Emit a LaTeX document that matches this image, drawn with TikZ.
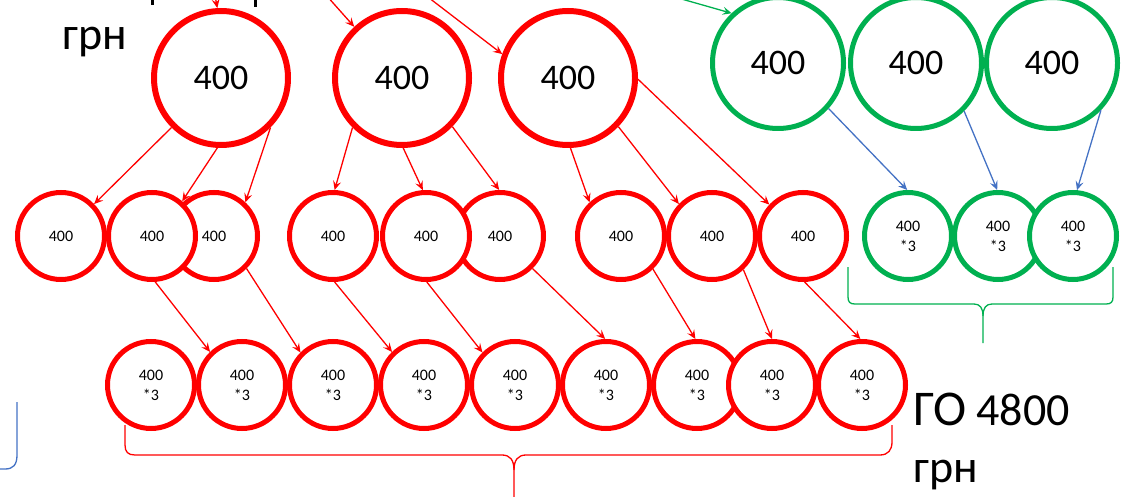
\documentclass[tikz,border=0pt]{standalone}
\usepackage{fontspec}
\setmainfont{Carlito}
\usetikzlibrary{arrows.meta}
\definecolor{pred}{RGB}{255,0,0}
\definecolor{pgreen}{RGB}{0,176,80}
\definecolor{pblue}{RGB}{68,114,196}
\begin{document}
\begin{tikzpicture}[x=1pt,y=-1pt,
  bigred/.style={circle,draw=pred,line width=6pt,fill=white,minimum size=134pt,inner sep=0pt,font=\fontsize{36}{40}\selectfont},
  biggreen/.style={circle,draw=pgreen,line width=5pt,fill=white,minimum size=131pt,inner sep=0pt,font=\fontsize{36}{40}\selectfont},
  smallred/.style={circle,draw=pred,line width=5pt,fill=white,minimum size=87pt,inner sep=0pt,align=center,font=\fontsize{16}{20}\selectfont},
  smallgreen/.style={circle,draw=pgreen,line width=5pt,fill=white,minimum size=87pt,inner sep=0pt,align=center,font=\fontsize{16}{20}\selectfont},
  tip/.style={-{Stealth[length=9pt,width=8pt,inset=3.5pt]}},
  redarrow/.style={draw=pred,line width=1.3pt,tip},
  greenarrow/.style={draw=pgreen,line width=1.3pt,tip},
  bluearrow/.style={draw=pblue,line width=1.3pt,tip},
  bigtext/.style={anchor=base west,inner sep=0pt,font=\fontsize{46}{46}\selectfont}
]
\useasboundingbox (0,0) rectangle (1124,497);
\clip (0,0) rectangle (1124,497);

% top circles
\node[bigred] (C1) at (221,78) {400};
\node[bigred] (C2) at (402,78) {400};
\node[bigred] (C3) at (568,78) {400};
\node[biggreen] (G1) at (778,63) {400};
\node[biggreen] (G2) at (916,63) {400};
\node[biggreen] (G3) at (1052,63) {400};

% middle row
\node[smallred] (a1) at (61,236) {400};
\node[smallred] (a3) at (214,236) {400};
\node[smallred] (a2) at (152,236) {400};
\node[smallred] (a4) at (333,236) {400};
\node[smallred] (a6) at (500,236) {400};
\node[smallred] (a5) at (426,236) {400};
\node[smallred] (a7) at (621,236) {400};
\node[smallred] (a8) at (712,236) {400};
\node[smallred] (a9) at (803,236) {400};
\node[smallgreen] (g4) at (908,236) {400\\*3};
\node[smallgreen] (g5) at (998,236) {400\\*3};
\node[smallgreen] (g6) at (1073,236) {400\\*3};

% bottom row
\node[smallred] (b1) at (151,385) {400\\*3};
\node[smallred] (b2) at (242,385) {400\\*3};
\node[smallred] (b3) at (333,385) {400\\*3};
\node[smallred] (b4) at (424,385) {400\\*3};
\node[smallred] (b5) at (515,385) {400\\*3};
\node[smallred] (b6) at (606,385) {400\\*3};
\node[smallred] (b7) at (697,385) {400\\*3};
\node[smallred] (b8) at (772,385) {400\\*3};
\node[smallred] (b9) at (862,385) {400\\*3};

% incoming arrows from outside
\coordinate (in1) at (213,-15);
\coordinate (in2) at (318,-14);
\coordinate (in3) at (420,-9);
\coordinate (in4) at (650,-10);
\draw[redarrow] (in1) -- (C1.93);
\draw[redarrow] (in2) -- (C2.133);
\draw[redarrow] (in3) -- (C3.160);
\draw[greenarrow] (in4) -- (G1.133);

% top to middle
\draw[redarrow] (C1.225.6) -- (a1.44);
\draw[redarrow] (C1.267.5) -- (a2.49);
\draw[redarrow] (C1.-45) -- (a3.47);
\draw[redarrow] (C2.225.6) -- (a4.88);
\draw[redarrow] (C2.-89) -- (a5.94);
\draw[redarrow] (C2.-44.4) -- (a6.91);
\draw[redarrow] (C3.-88) -- (a7.133);
\draw[redarrow] (C3.-44.4) -- (a8.136);
\draw[redarrow] (C3.-1.6) -- (a9.137);
\draw[bluearrow] (G1.-42) -- (g4.91);
\draw[bluearrow] (G2.-45) -- (g5.91);
\draw[bluearrow] (G3.-44) -- (g6.85);

% middle to bottom
\draw[redarrow] (a2.-86) -- (b2.134);
\draw[redarrow] (a3.-45) -- (b3.135);
\draw[redarrow] (a4.-88) -- (b4.134);
\draw[redarrow] (a5.-89) -- (b5.135);
\draw[redarrow] (a6.-45) -- (b6.91);
\draw[redarrow] (a7.-46) -- (b7.92);
\draw[redarrow] (a8.-47) -- (b8.90);
\draw[redarrow] (a9.-88) -- (b9.92);

% braces
\draw[pred,line width=1.3pt] (125,425) -- (125,445) .. controls (125,452) and (128,455) .. (135,455) -- (502,455) .. controls (510,455) and (514,460) .. (514,470) -- (514,500);
\draw[pred,line width=1.3pt] (514,470) .. controls (514,460) and (518,455) .. (526,455) -- (880,455) .. controls (888,455) and (892,450) .. (892,442) -- (892,425);
\draw[pgreen,line width=1.3pt] (848,267) -- (848,297) .. controls (848,302) and (850,304) .. (855,304) -- (974,304) .. controls (980,304) and (983,308) .. (983,316) -- (983,343);
\draw[pgreen,line width=1.3pt] (983,316) .. controls (983,308) and (986,304) .. (992,304) -- (1106,304) .. controls (1111,304) and (1113,302) .. (1113,297) -- (1113,267);
\draw[pblue,line width=1.3pt] (17,402) -- (17,455) .. controls (17,465) and (13,469) .. (5,469) -- (-2,469);

% cut-off text fragments at the top edge
\draw[line width=3pt] (152,-2) -- (152,5);
\draw[line width=3pt] (255,-2) -- (255,7);

% labels
\node[bigtext] (grnA) at (62,50) {грн};
\node[anchor=base west,inner sep=0pt,font=\fontsize{46}{46}\selectfont] (go) at (913,425) {{\fontsize{50}{50}\selectfont ГО} 4800};
\node[bigtext] (grnB) at (913,482) {грн};
\end{tikzpicture}
\end{document}
